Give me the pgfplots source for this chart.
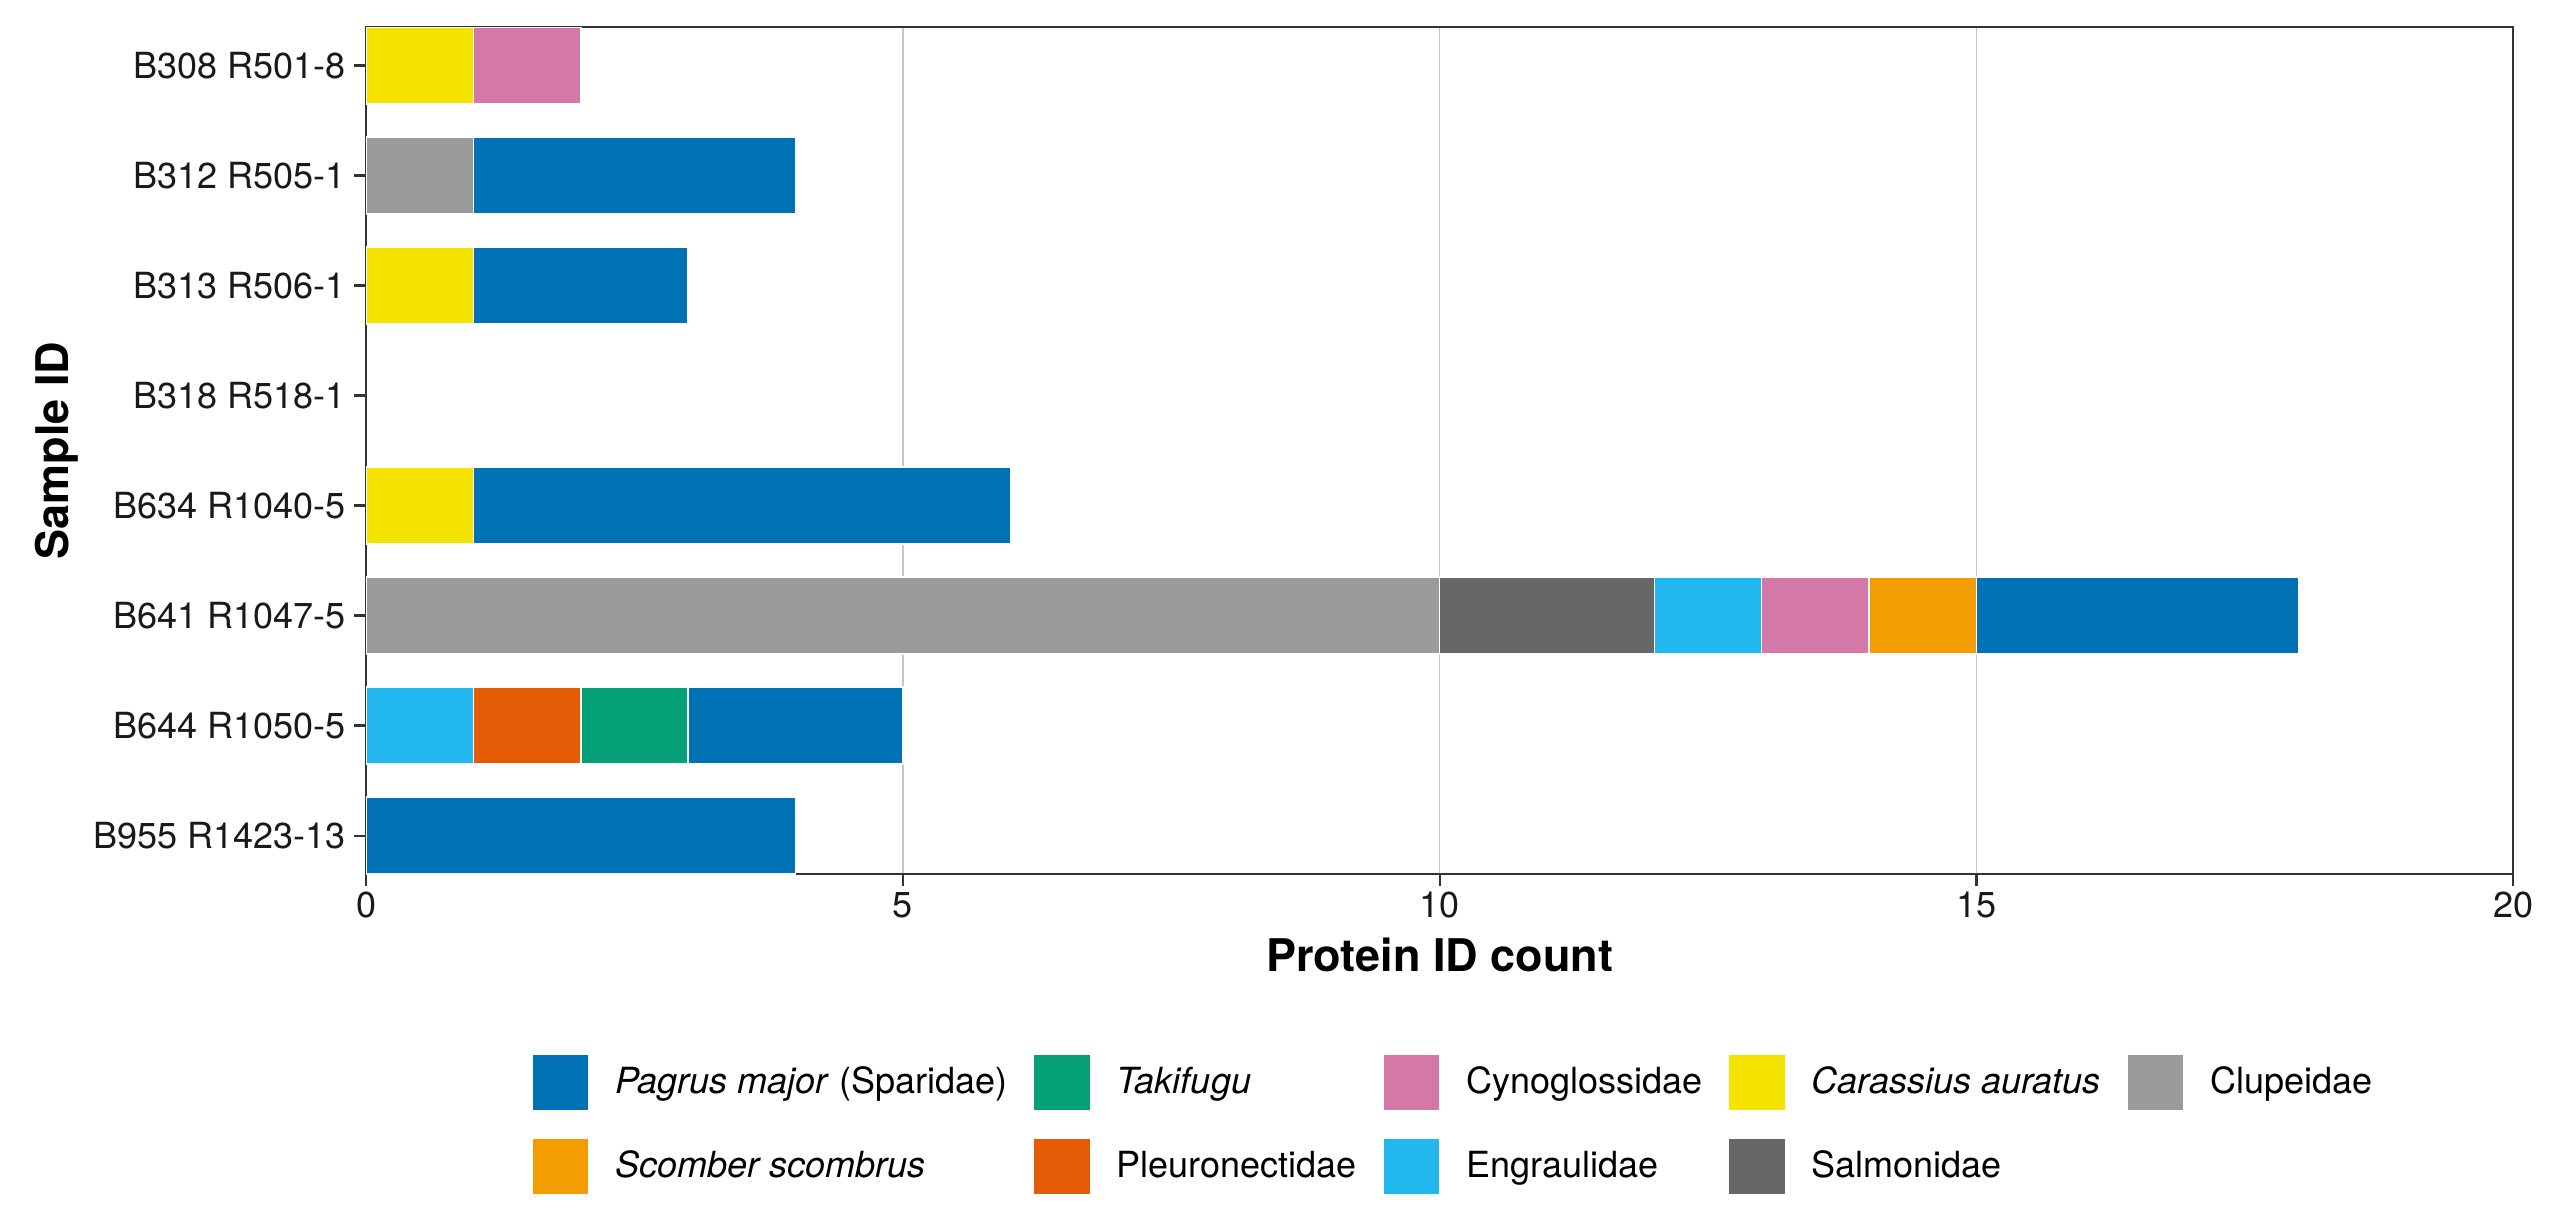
\documentclass[border=0pt]{standalone}
\usepackage{pgfplots}
\usepackage{pgfplotstable}
\pgfplotsset{compat=1.18}
\usepackage{fontspec}
\setmainfont{TeX Gyre Heros}

\definecolor{cPagrus}{HTML}{0072B5}
\definecolor{cScomb}{HTML}{F39D00}
\definecolor{cTaki}{HTML}{05A078}
\definecolor{cPleuro}{HTML}{E65B05}
\definecolor{cCyno}{HTML}{D479A7}
\definecolor{cEngr}{HTML}{22B8EF}
\definecolor{cCaras}{HTML}{F5E300}
\definecolor{cSalmo}{HTML}{676767}
\definecolor{cClup}{HTML}{9B9B9B}
\definecolor{frame}{HTML}{333333}

\pgfplotstableread{
y Clup Salmo Caras Engr Cyno Pleuro Taki Scomb Pagrus
0 0 0 0 0 0 0 0 0 4
1 0 0 0 1 0 1 1 0 2
2 10 2 0 1 1 0 0 1 3
3 0 0 1 0 0 0 0 0 5
4 0 0 0 0 0 0 0 0 0
5 0 0 1 0 0 0 0 0 2
6 1 0 0 0 0 0 0 0 3
7 0 0 1 0 1 0 0 0 0
}\data

\pgfplotsset{
  layers/mylayers/.define layer set={axis background,axis grid,main,axis ticks,axis lines,axis tick labels,axis descriptions,axis foreground}{},
}

\newcommand{\sq}[1]{\addlegendimage{legend image code/.code={\fill[#1] (0pt,-7.5pt) rectangle (15pt,7.5pt);}}}

\begin{document}
\begin{tikzpicture}
\begin{axis}[
  set layers=mylayers,
  scale only axis,
  width=596.4pt, height=235.3pt,
  xbar stacked,
  bar width=0.7,
  xmin=0, xmax=20,
  ymin=-0.35, ymax=7.35,
  xtick={0,5,10,15,20},
  ytick={0,...,7},
  yticklabels={B955 R1423-13,B644 R1050-5,B641 R1047-5,B634 R1040-5,B318 R518-1,B313 R506-1,B312 R505-1,B308 R501-8},
  xmajorgrids,
  grid style={draw=black!22, line width=0.4pt},
  axis line style={draw=frame, line width=0.5pt},
  tick align=outside,
  major tick length=3.3pt,
  tick style={draw=frame, line width=0.6pt},
  xtick pos=bottom, ytick pos=left,
  /pgf/number format/assume math mode=true,
  tick label style={font=\fontsize{10}{12}\selectfont, text=black!90},
  yticklabel style={inner sep=2.3pt},
  xticklabel style={inner sep=1.5pt},
  xlabel={Protein ID count},
  ylabel={Sample ID},
  label style={font=\fontsize{12.5}{15}\selectfont\bfseries},
  x label style={at={(axis description cs:0.5,-0.0957)}, anchor=center},
  y label style={at={(axis description cs:-0.1439,0.5)}, anchor=center},
  every axis plot/.append style={draw=white, line width=0.4pt},
  legend columns=5,
  legend cell align=left,
  legend style={at={(axis description cs:0.0773,-0.2125)}, anchor=north west,
    draw=none, fill=none, inner sep=0pt, column sep=7.5pt, row sep=8pt,
    font=\fontsize{10}{12}\selectfont, nodes={inner sep=0pt}},
]
\addplot[fill=cClup, forget plot] table[x=Clup, y=y] {\data};
\addplot[fill=cSalmo, forget plot] table[x=Salmo, y=y] {\data};
\addplot[fill=cCaras, forget plot] table[x=Caras, y=y] {\data};
\addplot[fill=cEngr, forget plot] table[x=Engr, y=y] {\data};
\addplot[fill=cCyno, forget plot] table[x=Cyno, y=y] {\data};
\addplot[fill=cPleuro, forget plot] table[x=Pleuro, y=y] {\data};
\addplot[fill=cTaki, forget plot] table[x=Taki, y=y] {\data};
\addplot[fill=cScomb, forget plot] table[x=Scomb, y=y] {\data};
\addplot[fill=cPagrus, forget plot] table[x=Pagrus, y=y] {\data};

\sq{cPagrus}\addlegendentry{\textit{Pagrus major} (Sparidae)}
\sq{cTaki}\addlegendentry{\textit{Takifugu}}
\sq{cCyno}\addlegendentry{Cynoglossidae}
\sq{cCaras}\addlegendentry{\textit{Carassius auratus}}
\sq{cClup}\addlegendentry{Clupeidae}
\sq{cScomb}\addlegendentry{\textit{Scomber scombrus}}
\sq{cPleuro}\addlegendentry{Pleuronectidae}
\sq{cEngr}\addlegendentry{Engraulidae}
\sq{cSalmo}\addlegendentry{Salmonidae}
\end{axis}
\pgfresetboundingbox
\path[use as bounding box] (-101.7pt,-93.9pt) rectangle (609.4pt,242.8pt);
\end{tikzpicture}
\end{document}
